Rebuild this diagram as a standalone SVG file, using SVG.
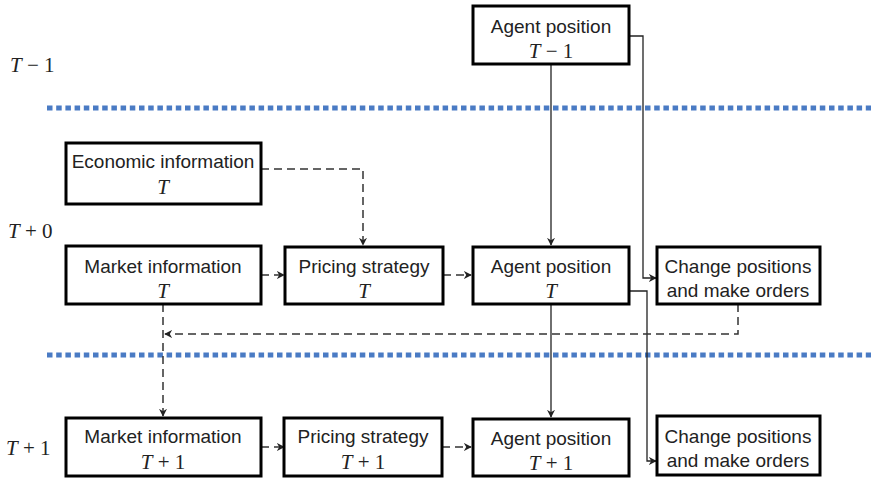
<svg xmlns="http://www.w3.org/2000/svg" width="871" height="478" viewBox="0 0 871 478">
<style>
.box{fill:#fff;stroke:#000;stroke-width:3}
.t{font-family:"Liberation Sans",Arial,sans-serif;font-size:19px;fill:#222;text-anchor:middle}
.m{font-family:"Liberation Serif","Times New Roman",serif;font-size:21px;fill:#222;text-anchor:middle}
.mi{font-style:italic}
.lab{font-family:"Liberation Serif","Times New Roman",serif;font-size:21px;fill:#222}
.sep{stroke:#4a7bc4;stroke-width:5;stroke-dasharray:5.5 3.7;fill:none}
.solid{stroke:#222;stroke-width:1.3;fill:none}
.dash{stroke:#333;stroke-width:1.5;stroke-dasharray:8 5;fill:none}
</style>
<defs>
<marker id="ah" viewBox="0 0 10 10" refX="9" refY="5" markerWidth="8" markerHeight="8" markerUnits="userSpaceOnUse" orient="auto">
<path d="M0,0 L10,5 L0,10 L3,5 Z" fill="#222"/>
</marker>
</defs>
<line class="sep" x1="47" y1="108" x2="871" y2="108"/>
<line class="sep" x1="47" y1="355" x2="871" y2="355"/>
<text class="lab" x="10" y="72"><tspan font-style="italic">T</tspan> − 1</text>
<text class="lab" x="8" y="238"><tspan font-style="italic">T</tspan> + 0</text>
<text class="lab" x="6" y="455"><tspan font-style="italic">T</tspan> + 1</text>
<g id="connectors">
<path class="solid" d="M551,64 V245" marker-end="url(#ah)"/>
<path class="solid" d="M629,36 H643 V278 H656" marker-end="url(#ah)"/>
<path class="dash" d="M261,169 H363 V245" marker-end="url(#ah)"/>
<path class="dash" d="M261,275 H284" marker-end="url(#ah)"/>
<path class="dash" d="M443,275 H471" marker-end="url(#ah)"/>
<path class="solid" d="M629,291 H647 V461 H656" marker-end="url(#ah)"/>
<path class="solid" d="M551,304 V417" marker-end="url(#ah)"/>
<path class="dash" d="M738,304 V334 H165" marker-end="url(#ah)"/>
<path class="dash" d="M163,304 V416" marker-end="url(#ah)"/>
<path class="dash" d="M261,447 H284" marker-end="url(#ah)"/>
<path class="dash" d="M442,447 H471" marker-end="url(#ah)"/>
</g>
<g id="agent-tm1">
<rect class="box" x="473" y="6" width="156" height="58"/>
<text class="t" x="551" y="33">Agent position</text>
<text class="m" x="551" y="58"><tspan class="mi">T</tspan> − 1</text>
</g>
<g id="econ-t">
<rect class="box" x="66" y="143" width="195" height="61"/>
<text class="t" x="163" y="168">Economic information</text>
<text class="m" x="163" y="194"><tspan class="mi">T</tspan></text>
</g>
<g id="market-t">
<rect class="box" x="66" y="246" width="195" height="58"/>
<text class="t" x="163" y="273">Market information</text>
<text class="m" x="163" y="298"><tspan class="mi">T</tspan></text>
</g>
<g id="pricing-t">
<rect class="box" x="285" y="247" width="158" height="57"/>
<text class="t" x="364" y="273">Pricing strategy</text>
<text class="m" x="364" y="298"><tspan class="mi">T</tspan></text>
</g>
<g id="agent-t">
<rect class="box" x="473" y="247" width="156" height="57"/>
<text class="t" x="551" y="273">Agent position</text>
<text class="m" x="551" y="298"><tspan class="mi">T</tspan></text>
</g>
<g id="change-t">
<rect class="box" x="657" y="247" width="163" height="57"/>
<text class="t" x="738" y="273">Change positions</text>
<text class="t" x="738" y="297">and make orders</text>
</g>
<g id="market-t1">
<rect class="box" x="66" y="418" width="195" height="58"/>
<text class="t" x="163" y="443">Market information</text>
<text class="m" x="163" y="469"><tspan class="mi">T</tspan> + 1</text>
</g>
<g id="pricing-t1">
<rect class="box" x="284" y="418" width="158" height="58"/>
<text class="t" x="363" y="443">Pricing strategy</text>
<text class="m" x="363" y="469"><tspan class="mi">T</tspan> + 1</text>
</g>
<g id="agent-t1">
<rect class="box" x="473" y="419" width="156" height="57"/>
<text class="t" x="551" y="445">Agent position</text>
<text class="m" x="551" y="470"><tspan class="mi">T</tspan> + 1</text>
</g>
<g id="change-t1">
<rect class="box" x="657" y="416" width="163" height="59"/>
<text class="t" x="738" y="443">Change positions</text>
<text class="t" x="738" y="467">and make orders</text>
</g>
</svg>
